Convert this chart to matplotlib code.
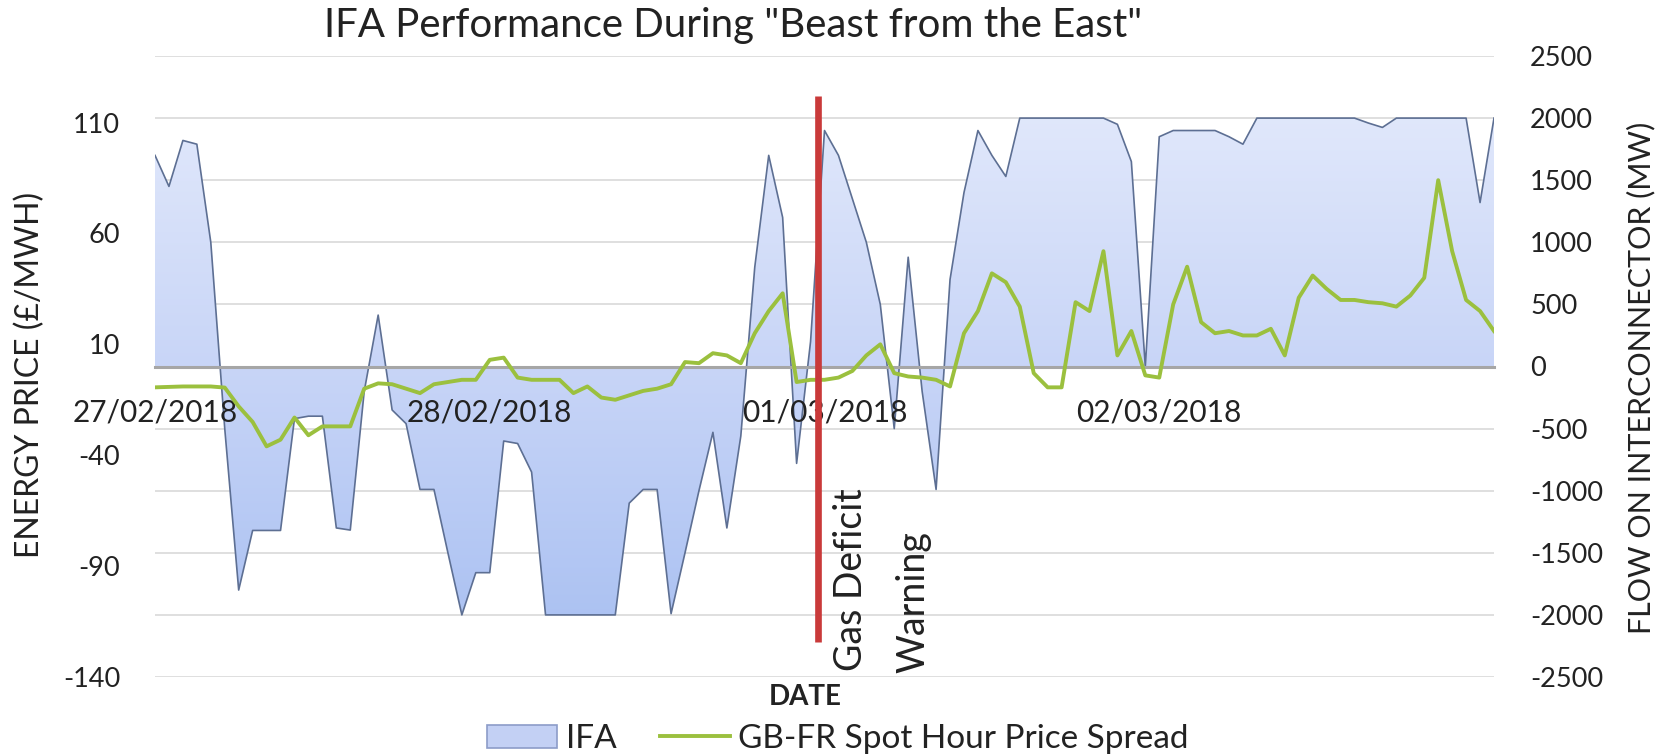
import numpy as np
import matplotlib
matplotlib.use("Agg")
import matplotlib.pyplot as plt
from matplotlib.patches import Patch
from matplotlib.lines import Line2D
from matplotlib.colors import LinearSegmentedColormap

plt.rcParams['font.family'] = ['Lato', 'DejaVu Sans']
plt.rcParams['axes.unicode_minus'] = False

# ---------------- data ----------------
hours = np.arange(97)  # hourly, from 27/02/2018 00:00

ifa_mw = [
    1700, 1450, 1820, 1790, 1000, -500, -1800, -1320, -1320, -1320,
    -420, -400, -400, -1300, -1317, -200, 414, -350, -460, -990,
    -990, -1500, -2000, -1660, -1660, -600, -620, -850, -2000, -2000,
    -2000, -2000, -2000, -2000, -1100, -990, -990, -1990, -1500, -1000,
    -530, -1300, -560, 800, 1700, 1200, -780, 200, 1900, 1700,
    1350, 1000, 500, -500, 880, -200, -990, 700, 1400, 1900,
    1700, 1530, 2000, 2000, 2000, 2000, 2000, 2000, 2000, 1950,
    1650, 0, 1850, 1900, 1900, 1900, 1900, 1850, 1790, 2000,
    2000, 2000, 2000, 2000, 2000, 2000, 2000, 1960, 1925, 2000,
    2000, 2000, 2000, 2000, 2000, 1320, 2000,
]

spread_gbp = [
    -9.4, -9.2, -9, -9, -9, -9.5, -18, -25, -36, -33,
    -23, -31, -27, -27, -27, -10, -7.6, -8, -10, -12,
    -8, -7, -6, -6, 3, 4, -5, -6, -6, -6,
    -12, -9, -14, -15, -13, -11, -10, -8, 2, 1.5,
    6, 5, 1.5, 15, 25, 33, -7, -6, -6, -5,
    -2, 5, 10, -3, -4.5, -5, -6, -9, 15, 25,
    42, 38, 27, -3, -9.4, -9.4, 29, 25, 52, 5,
    16, -4, -5, 28, 45, 20, 15, 16, 14, 14,
    17, 5, 31, 41, 35, 30, 30, 29, 28.5, 27,
    32, 40, 84, 52, 30, 25, 16,
]

date_ticks = [0, 24, 48, 72]
date_labels = ['27/02/2018', '28/02/2018', '01/03/2018', '02/03/2018']
price_ticks = [-140, -90, -40, 10, 60, 110]
flow_ticks = [-2500, -2000, -1500, -1000, -500, 0, 500, 1000, 1500, 2000, 2500]

gas_deficit_hour = 47.5
event_line_top = 122
event_line_bottom = -124

# ---------------- figure ----------------
W, H = 1679, 756
fig = plt.figure(figsize=(W / 100, H / 100), dpi=100)
L, R, T, B = 155, 1494, 56, 677
ax = fig.add_axes([L / W, 1 - B / H, (R - L) / W, (B - T) / H])
ax2 = ax.twinx()
ax.set_zorder(2)
ax2.set_zorder(1)
ax.patch.set_visible(False)

txt = '#222222'

# --- IFA flow area (right axis) with gradient fill ---
ax2.set_axisbelow(True)
ax2.yaxis.grid(True, color='#d9d9d9', lw=1.2)
poly = ax2.fill_between(hours, ifa_mw, 0, facecolor='none', edgecolor='none')
path = poly.get_paths()[0]
cmap = LinearSegmentedColormap.from_list('ifa', ['#a6bef1', '#c8d5f7', '#e6ecfc'])
grad = np.linspace(0, 1, 256).reshape(-1, 1)
im = ax2.imshow(grad, cmap=cmap, origin='lower', aspect='auto',
                extent=[hours[0], hours[-1], -2500, 2500], zorder=2,
                interpolation='bilinear')
im.set_clip_path(path, transform=ax2.transData)
ax2.plot(hours, ifa_mw, color='#5d6f93', lw=1.2, zorder=3)
ax2.set_ylim(-2500, 2500)
ax2.set_yticks(flow_ticks)
ax2.tick_params(axis='y', length=0, pad=26, labelsize=19.5, labelcolor=txt)
for s in ax2.spines.values():
    s.set_visible(False)

# --- price spread (left axis) ---
ax.plot(hours, spread_gbp, color='#9bc03e', lw=2.8, zorder=4)
ax.vlines(gas_deficit_hour, event_line_bottom, event_line_top,
          color='#c93a3a', lw=4.8, zorder=5)
ax.set_ylim(-140, 140)
ax.set_xlim(hours[0], hours[-1])
ax.set_yticks(price_ticks)
ax.set_xticks(date_ticks, date_labels)
ax.tick_params(axis='y', length=0, pad=25, labelsize=19.5, labelcolor=txt)
ax.tick_params(axis='x', length=0, pad=23, labelsize=21.5, labelcolor=txt)
for k in ['top', 'right', 'left']:
    ax.spines[k].set_visible(False)
ax.spines['bottom'].set_position(('data', 0))
ax.spines['bottom'].set_color('#a6a6a6')
ax.spines['bottom'].set_linewidth(2.2)
ax.spines['bottom'].set_zorder(3)

# --- texts ---
fig.text(733 / W, 1 - 25 / H, 'IFA Performance During "Beast from the East"',
         ha='center', va='center', fontsize=29, color=txt)
fig.text(30 / W, 1 - 375 / H, 'ENERGY PRICE (£/MWH)', rotation=90,
         ha='center', va='center', fontsize=23, color=txt)
fig.text(1641 / W, 1 - 378 / H, 'FLOW ON INTERCONNECTOR (MW)', rotation=90,
         ha='center', va='center', fontsize=22, color=txt)
fig.text(805 / W, 1 - 697 / H, 'DATE', ha='center', va='center',
         fontsize=20, fontweight='bold', color=txt)
fig.text(833 / W, 1 - 671 / H, 'Gas Deficit', rotation=90, ha='left',
         va='bottom', fontsize=27, color=txt)
fig.text(895 / W, 1 - 673 / H, 'Warning', rotation=90, ha='left',
         va='bottom', fontsize=27, color=txt)

# --- legend ---
handles = [Patch(facecolor='#c3d0f4', edgecolor='#8c9cc8', lw=1.2),
           Line2D([0], [0], color='#9bc03e', lw=2.8)]
fig.legend(handles, ['IFA', 'GB-FR Spot Hour Price Spread'], ncol=2,
           loc='center', bbox_to_anchor=(838 / W, 1 - 739 / H), frameon=False,
           fontsize=24, handlelength=2.1, handletextpad=0.25, columnspacing=1.3,
           labelcolor=txt)

fig.savefig('out.png', dpi=100)
